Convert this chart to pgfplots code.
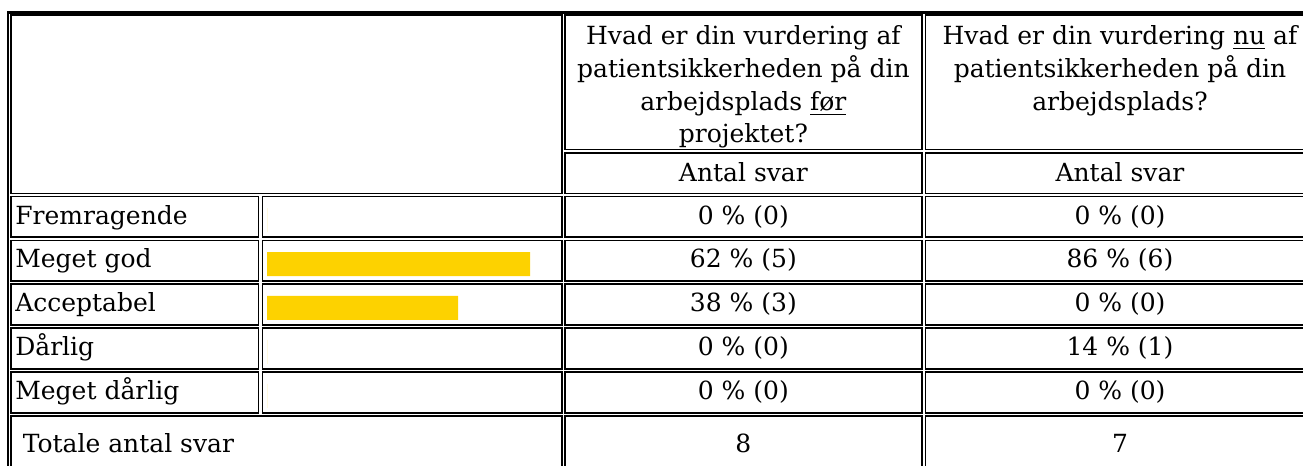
\documentclass[border=0pt]{standalone}
\usepackage{pgfplots}
\pgfplotsset{compat=1.18}
\usepackage{fontspec}
\setmainfont{DejaVu Serif}
\definecolor{baryellow}{RGB}{253,210,0}

\begin{document}
\begin{tikzpicture}[font=\fontsize{12.5}{15}\selectfont]
\useasboundingbox (0,0) rectangle (651.5pt,-233pt);
\clip (0,0) rectangle (651.5pt,-233pt);
\begin{scope}[x=0.5pt,y=-0.5pt,line width=0.85pt]
  % outer table border
  \draw[line width=1.25pt] (8,12.3) rectangle (1340,490);
  % header cells
  \draw (10.8,15.2) rectangle (561.8,193.5);
  \draw (564.8,15.2) rectangle (922,149.5);
  \draw (925.5,15.2) rectangle (1314.5,149.5);
  \draw (564.8,152.8) rectangle (922,193.5);
  \draw (925.5,152.8) rectangle (1314.5,193.5);
  % data rows
  \foreach \i in {0,...,4} {
    \pgfmathsetmacro\t{196.5+43.9*\i}
    \pgfmathsetmacro\b{\t+40.8}
    \draw (10.8,\t) rectangle (258.5,\b);
    \draw (262.5,\t) rectangle (561.8,\b);
    \draw (564.8,\t) rectangle (922,\b);
    \draw (925.5,\t) rectangle (1314.5,\b);
  }
  % total row
  \draw (10.8,416) rectangle (561.8,520);
  \draw (564.8,416) rectangle (922,520);
  \draw (925.5,416) rectangle (1314.5,520);

  % header text
  \node[anchor=base,inner sep=0] at (743.4,45) {Hvad er din vurdering af};
  \node[anchor=base,inner sep=0] at (743.4,77.5) {patientsikkerheden på din};
  \node[anchor=base,inner sep=0] at (743.4,110) {arbejdsplads \underline{før}};
  \node[anchor=base,inner sep=0] at (743.4,142.5) {projektet?};
  \node[anchor=base,inner sep=0] at (1120,45) {Hvad er din vurdering \underline{nu} af};
  \node[anchor=base,inner sep=0] at (1120,77.5) {patientsikkerheden på din};
  \node[anchor=base,inner sep=0] at (1120,110) {arbejdsplads?};
  \node[anchor=base,inner sep=0] at (743.4,181.5) {Antal svar};
  \node[anchor=base,inner sep=0] at (1120,181.5) {Antal svar};

  % row labels
  \node[anchor=base west,inner sep=0] at (14.5,224) {Fremragende};
  \node[anchor=base west,inner sep=0] at (14.5,267.9) {Meget god};
  \node[anchor=base west,inner sep=0] at (14.5,311.8) {Acceptabel};
  \node[anchor=base west,inner sep=0] at (14.5,355.7) {Dårlig};
  \node[anchor=base west,inner sep=0] at (14.5,399.6) {Meget dårlig};
  \node[anchor=base west,inner sep=0] at (22,452) {Totale antal svar};

  % values column "før"
  \node[anchor=base,inner sep=0] at (743.4,224) {0 \% (0)};
  \node[anchor=base,inner sep=0] at (743.4,267.9) {62 \% (5)};
  \node[anchor=base,inner sep=0] at (743.4,311.8) {38 \% (3)};
  \node[anchor=base,inner sep=0] at (743.4,355.7) {0 \% (0)};
  \node[anchor=base,inner sep=0] at (743.4,399.6) {0 \% (0)};
  \node[anchor=base,inner sep=0] at (743.4,452) {8};
  % values column "nu"
  \node[anchor=base,inner sep=0] at (1120,224) {0 \% (0)};
  \node[anchor=base,inner sep=0] at (1120,267.9) {86 \% (6)};
  \node[anchor=base,inner sep=0] at (1120,311.8) {0 \% (0)};
  \node[anchor=base,inner sep=0] at (1120,355.7) {14 \% (1)};
  \node[anchor=base,inner sep=0] at (1120,399.6) {0 \% (0)};
  \node[anchor=base,inner sep=0] at (1120,452) {7};
\end{scope}

\begin{axis}[
  at={(133.5pt,-99pt)}, anchor=north west,
  scale only axis, width=147pt, height=110pt,
  xmin=0, xmax=98, ymin=-0.5, ymax=4.5, y dir=reverse,
  hide axis, xbar, bar width=12pt,
  x filter/.expression={x>0 ? x+25.67 : 0},
]
\addplot[fill=baryellow, draw=none] coordinates {(0,0) (62,1) (38,2) (0,3) (0,4)};
\end{axis}
\end{tikzpicture}
\end{document}
